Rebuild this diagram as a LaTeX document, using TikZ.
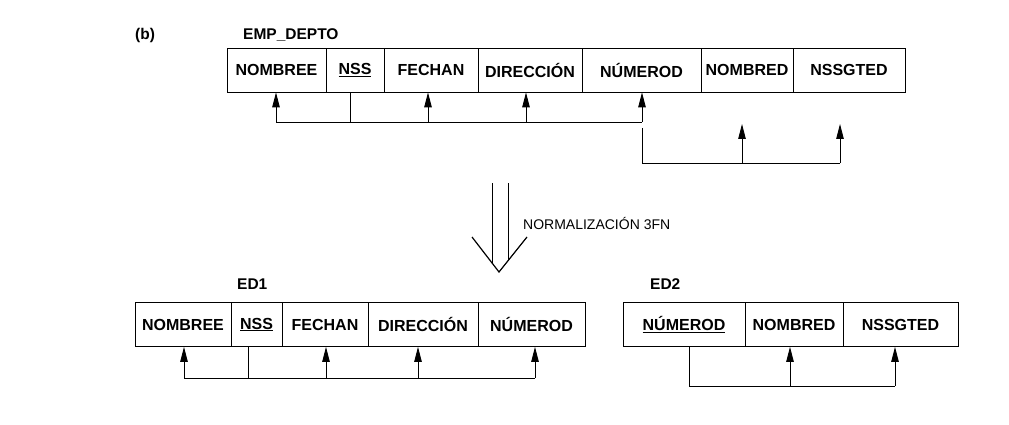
\documentclass[tikz,border=0pt]{standalone}
\usepackage{fontspec}
\setmainfont{Liberation Sans}
\usetikzlibrary{arrows.meta}
\begin{document}
\begin{tikzpicture}[x=1pt,y=-1pt,
  cell/.style={draw, line width=0.8pt, minimum height=44pt, inner sep=0pt,
    font=\fontsize{16}{19}\selectfont\bfseries},
  lbl/.style={anchor=west, inner sep=0pt, font=\fontsize{15.5}{18}\selectfont\bfseries},
  conn/.style={line width=0.9pt},
  arr/.style={line width=0.9pt, -{Triangle[length=15pt,width=7.5pt]}}]
\useasboundingbox (0,0) rectangle (1009,425);
% labels
\node[lbl] (b) at (135,35) {(b)};
\node[lbl] (lemp) at (243,35) {EMP\_DEPTO};
\node[lbl] (led1) at (237,284) {ED1};
\node[lbl] (led2) at (650,284) {ED2};
\node[anchor=west, inner sep=0pt, font=\fontsize{14}{16}\selectfont] (norm) at (523,223) {NORMALIZACIÓN 3FN};
% top relation
\node[cell, minimum width=99pt]  (t1) at (276.5,70) {NOMBREE};
\node[cell, minimum width=58pt]  (t2) at (355,70) {\underline{NSS}};
\node[cell, minimum width=94pt]  (t3) at (431,70) {FECHAN};
\node[cell, minimum width=104pt] (t4) at (530,70) {DIRECCIÓN};
\node[cell, minimum width=119pt] (t5) at (641.5,70) {NÚMEROD};
\node[cell, minimum width=92pt]  (t6) at (747,70) {NOMBRED};
\node[cell, minimum width=112pt] (t7) at (849,70) {NSSGTED};
\coordinate (pt1) at ([xshift=-0.5pt]t1.south);
\coordinate (pt2) at ([xshift=-5pt]t2.south);
\coordinate (pt3) at ([xshift=-3pt]t3.south);
\coordinate (pt4) at ([xshift=-4pt]t4.south);
\coordinate (pt5) at ([xshift=0.5pt]t5.south);
\coordinate (pt6) at ([xshift=-5pt]t6.south);
\coordinate (pt7) at ([xshift=-9pt]t7.south);
\coordinate (b1) at (0,122);
\draw[conn] (pt1 |- b1) -- (pt5 |- b1);
\draw[conn] (pt2) -- (pt2 |- b1);
\foreach \n in {pt1,pt3,pt4,pt5} \draw[arr] (\n |- b1) -- (\n);
\coordinate (s2) at (0,128);
\coordinate (b2) at (0,163);
\coordinate (tip2) at (0,124);
\draw[conn] (pt5 |- s2) -- (pt5 |- b2) -- (pt7 |- b2);
\foreach \n in {pt6,pt7} \draw[arr] (\n |- b2) -- (\n |- tip2);
% double arrow
\draw[line width=0.8pt] (492,183) -- (492,263);
\draw[line width=0.8pt] (508,183) -- (508,260);
\draw[line width=1.2pt, line join=miter] (472,237) -- (499,272) -- (527,237);
% ED1
\node[cell, minimum width=96pt]  (e1) at (183,324.5) {NOMBREE};
\node[cell, minimum width=51pt]  (e2) at (256.5,324.5) {\underline{NSS}};
\node[cell, minimum width=86pt]  (e3) at (325,324.5) {FECHAN};
\node[cell, minimum width=110pt] (e4) at (423,324.5) {DIRECCIÓN};
\node[cell, minimum width=107pt] (e5) at (531.5,324.5) {NÚMEROD};
\coordinate (pe1) at ([xshift=1pt]e1.south);
\coordinate (pe2) at ([xshift=-8.5pt]e2.south);
\coordinate (pe3) at ([xshift=1pt]e3.south);
\coordinate (pe4) at ([xshift=-5pt]e4.south);
\coordinate (pe5) at ([xshift=3.5pt]e5.south);
\coordinate (b3) at (0,378);
\draw[conn] (pe1 |- b3) -- (pe5 |- b3);
\draw[conn] (pe2) -- (pe2 |- b3);
\foreach \n in {pe1,pe3,pe4,pe5} \draw[arr] (\n |- b3) -- (\n);
% ED2
\node[cell, minimum width=122pt] (f1) at (684,324.5) {\underline{NÚMEROD}};
\node[cell, minimum width=98pt]  (f2) at (794,324.5) {NOMBRED};
\node[cell, minimum width=115pt] (f3) at (900.5,324.5) {NSSGTED};
\coordinate (pf1) at ([xshift=5pt]f1.south);
\coordinate (pf2) at ([xshift=-4pt]f2.south);
\coordinate (pf3) at ([xshift=-5.5pt]f3.south);
\coordinate (b4) at (0,386);
\draw[conn] (pf1) -- (pf1 |- b4) -- (pf3 |- b4);
\foreach \n in {pf2,pf3} \draw[arr] (\n |- b4) -- (\n);
\end{tikzpicture}
\end{document}
